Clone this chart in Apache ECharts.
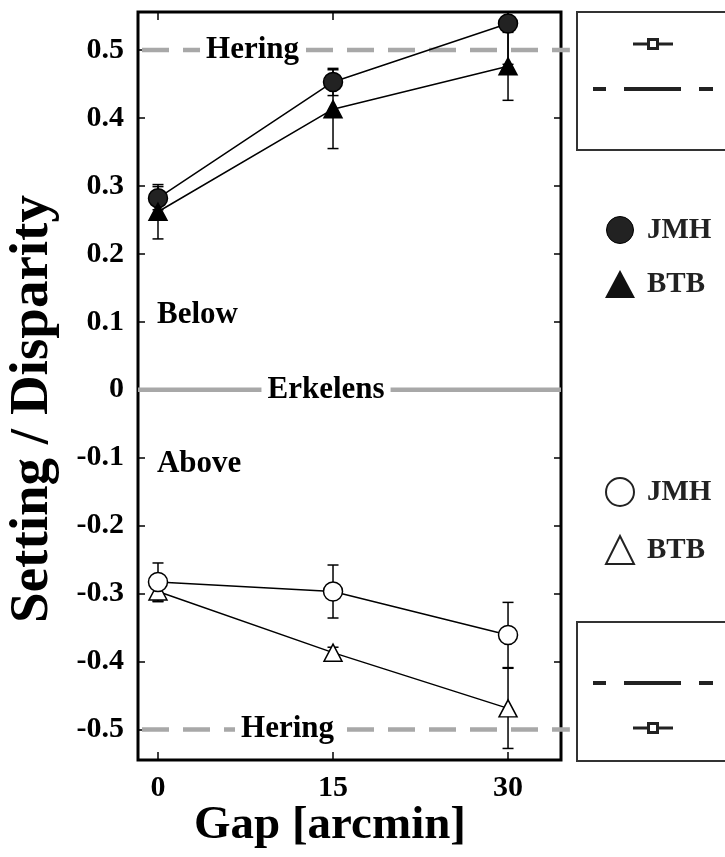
<!DOCTYPE html>
<html><head><meta charset="utf-8">
<script src="https://cdn.jsdelivr.net/npm/echarts@6/dist/echarts.min.js"></script>
<style>html,body{margin:0;padding:0;background:#fff}#c{width:725px;height:857px}</style>
</head><body><div id="c"></div>
<script>
// ---- data ----
const gaps = [0, 15, 30];
const yTicks = [-0.5, -0.4, -0.3, -0.2, -0.1, 0, 0.1, 0.2, 0.3, 0.4, 0.5];
const jmhBelow = [0.282, 0.453, 0.539];
const jmhBelowErr = [0.017, 0.020, 0.060];
const btbBelow = [0.262, 0.413, 0.476];
const btbBelowErr = [0.040, 0.058, 0.050];
const jmhAbove = [-0.283, -0.297, -0.361];
const jmhAboveErr = [0.028, 0.039, 0.048];
const btbAbove = [-0.297, -0.387, -0.469];
const btbAboveErr = [0.015, 0.008, 0.059];
const refValues = [0.5, 0, -0.5];
const refNames = ['Hering', 'Erkelens', 'Hering'];
const refLabelX = [8.1, 14.4, 11.1];
const refDashed = [true, false, true];
const regionNames = ['Below', 'Above'];
const regionY = [0.11, -0.11];
const regionX = -0.09;
const xMin = -1.714, xMax = 34.54, xExt = 35.3;
const yMin = -0.545, yMax = 0.556;

const FONT = '"Liberation Serif", "Times New Roman", serif';
const chart = echarts.init(document.getElementById('c'), null, {renderer: 'canvas'});

function errSeries(vals, errs) {
  return {
    type: 'custom', z: 2, clip: true, silent: true,
    data: gaps.map((g, i) => [g, vals[i], errs[i]]),
    encode: {x: 0, y: 1},
    renderItem: function (params, api) {
      const x = api.value(0), y = api.value(1), e = api.value(2);
      const t = api.coord([x, y + e]), b = api.coord([x, y - e]);
      const w = 5.5;
      const st = {stroke: '#000', lineWidth: 1.5};
      return {type: 'group', children: [
        {type: 'line', shape: {x1: t[0], y1: t[1], x2: b[0], y2: b[1]}, style: st},
        {type: 'line', shape: {x1: t[0] - w, y1: t[1], x2: t[0] + w, y2: t[1]}, style: st},
        {type: 'line', shape: {x1: b[0] - w, y1: b[1], x2: b[0] + w, y2: b[1]}, style: st}
      ]};
    }
  };
}
function lineSeries(name, vals, symbol, size, fill, z) {
  return {
    name: name, type: 'line', z: z, data: gaps.map((g, i) => [g, vals[i]]),
    symbol: symbol, symbolSize: size, showSymbol: true,
    lineStyle: {color: '#000', width: 1.5},
    itemStyle: {color: fill, borderColor: '#000', borderWidth: 1.5},
    emphasis: {disabled: true}, animation: false
  };
}

const labelStyle = {fontSize: 30, fontWeight: 'bold', fontFamily: FONT, color: '#000'};
const tickStyle = {color: '#000', width: 1.5};

const option = {
  animation: false,
  grid: {left: 138, right: 164, top: 12, bottom: 97, show: true, borderColor: '#000', borderWidth: 3, backgroundColor: 'transparent'},
  xAxis: [
    {type: 'value', min: xMin, max: xMax, position: 'bottom',
     axisLine: {show: false, onZero: false}, splitLine: {show: false},
     axisTick: {show: true, inside: true, length: 8, customValues: gaps, lineStyle: tickStyle},
     axisLabel: Object.assign({show: true, margin: 13, customValues: gaps}, labelStyle)},
    {type: 'value', min: xMin, max: xMax, position: 'top',
     axisLine: {show: false, onZero: false}, splitLine: {show: false},
     axisTick: {show: true, inside: true, length: 8, customValues: gaps, lineStyle: tickStyle},
     axisLabel: {show: false}}
  ],
  yAxis: [
    {type: 'value', min: yMin, max: yMax, position: 'left',
     axisLine: {show: false, onZero: false}, splitLine: {show: false},
     axisTick: {show: true, inside: true, length: 7, customValues: yTicks, lineStyle: tickStyle},
     axisLabel: Object.assign({show: true, margin: 14, customValues: yTicks,
       formatter: v => (Math.abs(v) < 1e-9 ? '0' : v.toFixed(1))}, labelStyle)},
    {type: 'value', min: yMin, max: yMax, position: 'right',
     axisLine: {show: false, onZero: false}, splitLine: {show: false},
     axisTick: {show: true, inside: true, length: 7, customValues: yTicks, lineStyle: tickStyle},
     axisLabel: {show: false}}
  ],
  series: [
    {
      type: 'custom', z: 1, silent: true, clip: false,
      data: refValues.map((v, i) => [refLabelX[i], v, i]),
      encode: {x: 0, y: 1},
      renderItem: function (params, api) {
        const i = api.value(2), y = api.value(1);
        const a = api.coord([xMin, y]);
        const b = api.coord([refDashed[i] ? xExt : xMax, y]);
        const p = api.coord([api.value(0), y]);
        return {type: 'group', children: [
          {type: 'line', shape: {x1: a[0], y1: a[1], x2: b[0], y2: b[1]},
           style: {stroke: '#a8a8a8', lineWidth: 4.5, lineDash: refDashed[i] ? [27, 14] : null, lineDashOffset: -4}},
          {type: 'text', x: p[0], y: p[1],
           style: {text: refNames[i], fill: '#000', font: 'bold 31px ' + FONT, align: 'center', verticalAlign: 'middle',
                   backgroundColor: '#fff', padding: [0, 6, 0, 6]}}
        ]};
      }
    },
    {
      type: 'custom', z: 1, silent: true, clip: false,
      data: regionNames.map((n, i) => [regionX, regionY[i], i]),
      encode: {x: 0, y: 1},
      renderItem: function (params, api) {
        const p = api.coord([api.value(0), api.value(1)]);
        return {type: 'text', x: p[0], y: p[1],
          style: {text: regionNames[api.value(2)], fill: '#000', font: 'bold 31px ' + FONT, align: 'left', verticalAlign: 'middle'}};
      }
    },
    errSeries(jmhBelow, jmhBelowErr),
    errSeries(btbBelow, btbBelowErr),
    errSeries(jmhAbove, jmhAboveErr),
    errSeries(btbAbove, btbAboveErr),
    lineSeries('JMH below', jmhBelow, 'circle', 19, '#222', 3),
    lineSeries('BTB below', btbBelow, 'triangle', [18, 17], '#000', 4),
    lineSeries('BTB above', btbAbove, 'triangle', [18, 17], '#fff', 3),
    lineSeries('JMH above', jmhAbove, 'circle', 19, '#fff', 4)
  ],
  graphic: [
    // axis titles
    {type: 'text', x: 33, y: 409, rotation: Math.PI / 2,
     style: {text: 'Setting / Disparity', font: 'bold 55px ' + FONT, fill: '#000', align: 'center', verticalAlign: 'middle'}},
    {type: 'text', x: 330, y: 826,
     style: {text: 'Gap [arcmin]', font: 'bold 47px ' + FONT, fill: '#000', align: 'center', verticalAlign: 'middle'}},
    // top legend box
    {type: 'rect', shape: {x: 577, y: 12, width: 200, height: 138}, style: {fill: 'none', stroke: '#333', lineWidth: 2}},
    {type: 'line', shape: {x1: 633, y1: 44, x2: 673, y2: 44}, style: {stroke: '#222', lineWidth: 3}},
    {type: 'rect', shape: {x: 648.5, y: 39.5, width: 9, height: 9}, style: {fill: '#fff', stroke: '#222', lineWidth: 3}},
    {type: 'line', shape: {x1: 593, y1: 89, x2: 606, y2: 89}, style: {stroke: '#222', lineWidth: 4}},
    {type: 'line', shape: {x1: 624, y1: 89, x2: 681, y2: 89}, style: {stroke: '#222', lineWidth: 4}},
    {type: 'line', shape: {x1: 699, y1: 89, x2: 713, y2: 89}, style: {stroke: '#222', lineWidth: 4}},
    // bottom legend box
    {type: 'rect', shape: {x: 577, y: 622, width: 200, height: 139}, style: {fill: 'none', stroke: '#333', lineWidth: 2}},
    {type: 'line', shape: {x1: 593, y1: 683, x2: 606, y2: 683}, style: {stroke: '#222', lineWidth: 4}},
    {type: 'line', shape: {x1: 624, y1: 683, x2: 681, y2: 683}, style: {stroke: '#222', lineWidth: 4}},
    {type: 'line', shape: {x1: 699, y1: 683, x2: 713, y2: 683}, style: {stroke: '#222', lineWidth: 4}},
    {type: 'line', shape: {x1: 633, y1: 728, x2: 673, y2: 728}, style: {stroke: '#222', lineWidth: 3}},
    {type: 'rect', shape: {x: 648.5, y: 723.5, width: 9, height: 9}, style: {fill: '#fff', stroke: '#222', lineWidth: 3}},
    // symbol legend
    {type: 'circle', shape: {cx: 620, cy: 230, r: 13.5}, style: {fill: '#222', stroke: '#000', lineWidth: 1}},
    {type: 'text', x: 647, y: 231, style: {text: 'JMH', font: 'bold 29px ' + FONT, fill: '#222', verticalAlign: 'middle'}},
    {type: 'polygon', shape: {points: [[605, 298], [635, 298], [620, 270]]}, style: {fill: '#111'}},
    {type: 'text', x: 647, y: 285, style: {text: 'BTB', font: 'bold 29px ' + FONT, fill: '#222', verticalAlign: 'middle'}},
    {type: 'circle', shape: {cx: 620, cy: 492, r: 14}, style: {fill: '#fff', stroke: '#222', lineWidth: 2}},
    {type: 'text', x: 647, y: 493, style: {text: 'JMH', font: 'bold 29px ' + FONT, fill: '#222', verticalAlign: 'middle'}},
    {type: 'polygon', shape: {points: [[606, 564], [634, 564], [620, 536]]}, style: {fill: '#fff', stroke: '#222', lineWidth: 2}},
    {type: 'text', x: 647, y: 551, style: {text: 'BTB', font: 'bold 29px ' + FONT, fill: '#222', verticalAlign: 'middle'}}
  ]
};
chart.setOption(option);
</script>
</body></html>
